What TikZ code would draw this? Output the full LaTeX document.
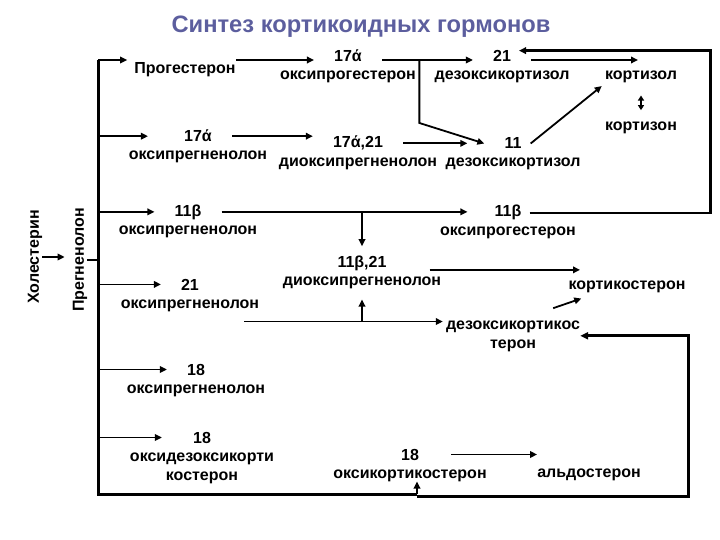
\documentclass[tikz,border=0pt]{standalone}
\usepackage{fontspec}
\setmainfont{Liberation Sans}
\usetikzlibrary{arrows.meta}
\definecolor{titleblue}{RGB}{92,94,158}
\begin{document}
\begin{tikzpicture}[x=1pt, y=-1pt,
  txt/.style={font=\bfseries\fontsize{16}{19}\selectfont, align=center, inner sep=0pt},
  num/.style={txt, inner xsep=20pt},
  arr/.style={-{Triangle[length=7pt,width=6.5pt]}, line width=1.8pt},
  dbl/.style={{Triangle[length=5pt,width=6pt]}-{Triangle[length=5pt,width=6pt]}, line width=1.8pt},
  ln/.style={line width=1.8pt},
  bus/.style={line width=3pt}]
\useasboundingbox (0,0) rectangle (720,540);
\node[font=\bfseries\fontsize{23.7}{28}\selectfont, text=titleblue] (title) at (361,27) {Синтез кортикоидных гормонов};

\node[txt, rotate=90] (chol) at (35,257) {Холестерин};
\node[txt, rotate=90] (preg) at (80,260) {Прегненолон};

\node[txt, anchor=base] (prog) at (185,74) {Прогестерон};
\node[txt, anchor=base] (ohprog17) at (348,80) {оксипрогестерон};
\node[num, anchor=base] (ohprog17n) at ([yshift=18pt]ohprog17.base) {17ά};
\node[txt, anchor=base] (doc21) at (502,80) {дезоксикортизол};
\node[num, anchor=base] (doc21n) at ([yshift=18pt]doc21.base) {21};
\node[txt, anchor=base] (cortisol) at (641,80) {кортизол};
\node[txt, anchor=base] (cortisone) at (641,131) {кортизон};

\node[txt, anchor=base] (ohpreg17) at (198,160) {оксипрегненолон};
\node[num, anchor=base] (ohpreg17n) at ([yshift=18pt]ohpreg17.base) {17ά};
\node[txt, anchor=base] (diohpreg) at (358,167) {диоксипрегненолон};
\node[num, anchor=base] (diohpregn) at ([yshift=19pt]diohpreg.base) {17ά,21};
\node[txt, anchor=base] (doc11) at (513,167) {дезоксикортизол};
\node[num, anchor=base] (doc11n) at ([yshift=18pt]doc11.base) {11};

\node[txt, anchor=base] (ohpreg11) at (188,234) {оксипрегненолон};
\node[num, anchor=base] (ohpreg11n) at ([yshift=18pt]ohpreg11.base) {11β};
\node[txt, anchor=base] (ohprog11) at (508,236) {оксипрогестерон};
\node[num, anchor=base] (ohprog11n) at ([yshift=19pt]ohprog11.base) {11β};
\node[txt, anchor=base] (diohpreg11) at (362,285) {диоксипрегненолон};
\node[num, anchor=base] (diohpreg11n) at ([yshift=18pt]diohpreg11.base) {11β,21};
\node[txt, anchor=base] (cortico) at (627,289) {кортикостерон};

\node[txt, anchor=base] (ohpreg21) at (190,308) {оксипрегненолон};
\node[num, anchor=base] (ohpreg21n) at ([yshift=18pt]ohpreg21.base) {21};
\node[txt, anchor=base] (doco) at (513,348) {дезоксикортикос\\терон};

\node[txt, anchor=base] (ohpreg18) at (196,393) {оксипрегненолон};
\node[num, anchor=base] (ohpreg18n) at ([yshift=18pt]ohpreg18.base) {18};
\node[txt, anchor=base] (ohdoco18) at (202,480) {оксидезоксикорти\\костерон};
\node[num, anchor=base] (ohdoco18n) at ([yshift=37pt]ohdoco18.base) {18};
\node[txt, anchor=base] (ohcort18) at (410,478) {оксикортикостерон};
\node[num, anchor=base] (ohcort18n) at ([yshift=18pt]ohcort18.base) {18};
\node[txt, anchor=base] (aldo) at (589,477) {альдостерон};

\coordinate (top) at (98,60);
\coordinate (bot) at (98,494);
\coordinate (kink) at ([xshift=7pt]ohcort18.base |- bot);
\coordinate (fork) at ([shift={(-15pt,-10pt)}]ohpreg21.south east);
\coordinate (rt) at ([xshift=169pt]ohprog11n.east);
\coordinate (rb) at ([xshift=108pt]doco.east);

\draw[arr, shorten >=8pt] (chol.south) -- (chol.south -| preg.north);
\draw[ln] (preg.south) -- (preg.south -| top);
\draw[bus] (top) -- (bot) -- (kink);
\draw[arr] (kink) -- (kink |- ohcort18.south);
\draw[bus, -{Triangle[length=8pt,width=7pt]}] ([yshift=-2pt]kink) -| (rb) -- (doco.east);

\draw[arr, shorten >=7pt] (top) -- (top -| prog.west);
\draw[arr] (prog.east |- top) -- (ohprog17n.west |- top);
\draw[arr] (ohprog17n.east |- top) -- (doc21n.west |- top);
\draw[arr] ([xshift=-15pt]doc21.west |- top) -- ++(0,63) -- (doc11n.west);
\draw[arr, shorten >=3pt] (doc21n.east |- top) -- (cortisol.north |- top);
\draw[dbl, shorten <=12pt, shorten >=12pt] (cortisol.south) -- (cortisone.north);
\draw[arr, shorten >=4pt] ([xshift=-11pt]doc11n.east) -- (cortisol.south west);

\draw[arr, shorten >=16pt] (top |- ohpreg17n.west) -- (ohpreg17n.west);
\draw[arr] (ohpreg17n.east) -- (ohpreg17n.east -| diohpregn.west);
\draw[arr, shorten >=17pt] (diohpregn.east) -- (diohpregn.east -| doc11n.west);

\draw[arr] (top |- ohpreg11n.west) -- (ohpreg11n.west);
\draw[arr, shorten >=7pt] (ohpreg11n.east) -- (ohpreg11n.east -| ohprog11n.west);
\draw[arr, shorten >=9pt] (ohpreg11n.east -| diohpreg11n.north) -- (diohpreg11n.north);
\draw[arr, line width=2.4pt, shorten >=17pt] ([xshift=-12pt]ohprog11n.east) -- (rt) |- (doc21n.north);

\draw[arr] (top |- ohpreg21n.west) -- (ohpreg21n.west);
\draw[arr, shorten >=3pt] (fork) -- (fork -| doco.west);
\draw[arr, shorten >=11pt] (fork -| diohpreg11.south) -- (diohpreg11.south);
\draw[arr, shorten <=23pt, shorten >=47pt] ([yshift=-7pt]diohpreg11n.east) -- ([yshift=-7pt]diohpreg11n.east -| cortico.north);
\draw[arr] ([shift={(-27pt,12pt)}]doco.north east) -- ([shift={(13pt,-6pt)}]cortico.south west);

\draw[arr] (top |- ohpreg18n.west) -- (ohpreg18n.west);
\draw[arr, shorten >=11pt] (top |- ohdoco18n.west) -- (ohdoco18n.west);
\draw[arr, shorten <=12pt] (ohcort18n.east) -- (ohcort18n.east -| aldo.west);
\end{tikzpicture}
\end{document}
